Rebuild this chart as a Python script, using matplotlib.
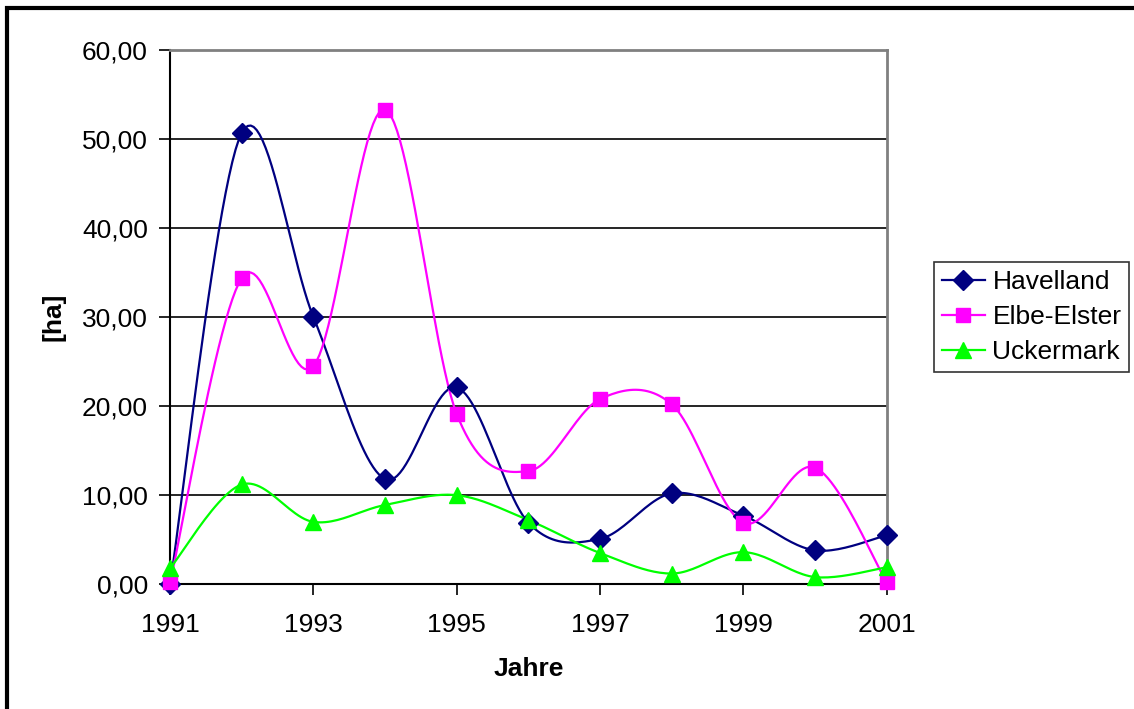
import numpy as np
import matplotlib
matplotlib.use("Agg")
import matplotlib.pyplot as plt
from matplotlib.patches import Rectangle

plt.rcParams['font.family'] = ['Liberation Sans', 'DejaVu Sans']

jahre = list(range(1991, 2002))
havelland = [0.0, 50.7, 30.0, 11.8, 22.1, 6.9, 5.1, 10.2, 7.7, 3.8, 5.5]
elbe_elster = [0.2, 34.4, 24.5, 53.3, 19.1, 12.7, 20.8, 20.2, 6.9, 13.1, 0.2]
uckermark = [1.8, 11.2, 7.0, 8.9, 10.0, 7.2, 3.5, 1.2, 3.6, 0.8, 1.9]

series = [
    ("Havelland", havelland, "#000080", "D", 10),
    ("Elbe-Elster", elbe_elster, "#FF00FF", "s", 10),
    ("Uckermark", uckermark, "#00FF00", "^", 11),
]


def smooth(x, y, n=24):
    # bezier smoothing through every point (catmull-rom style, like spreadsheet charts)
    x = np.asarray(x, float)
    y = np.asarray(y, float)
    px = np.concatenate([[x[0]], x, [x[-1]]])
    py = np.concatenate([[y[0]], y, [y[-1]]])
    xs, ys = [], []
    t = np.linspace(0, 1, n, endpoint=False)
    for i in range(1, len(px) - 2):
        p0 = np.array([px[i], py[i]])
        p3 = np.array([px[i + 1], py[i + 1]])
        c1 = p0 + (np.array([px[i + 1], py[i + 1]]) - np.array([px[i - 1], py[i - 1]])) / 6
        c2 = p3 - (np.array([px[i + 2], py[i + 2]]) - np.array([px[i], py[i]])) / 6
        b = ((1 - t) ** 3)[:, None] * p0 + (3 * (1 - t) ** 2 * t)[:, None] * c1 \
            + (3 * (1 - t) * t ** 2)[:, None] * c2 + (t ** 3)[:, None] * p3
        xs.extend(b[:, 0])
        ys.extend(b[:, 1])
    xs.append(x[-1])
    ys.append(y[-1])
    return np.array(xs), np.array(ys)


fig = plt.figure(figsize=(11.34, 7.09), dpi=100)
ax = fig.add_axes([0.150, 0.176, 0.632, 0.7535])

for name, vals, col, mk, ms in series:
    sx, sy = smooth(jahre, vals)
    ax.plot(sx, sy, color=col, lw=1.6, zorder=3)
    ax.plot(jahre, vals, linestyle='none', marker=mk, markersize=ms,
            color=col, markeredgecolor=col, zorder=4, clip_on=False)

ax.set_xlim(1991, 2001)
ax.set_ylim(0, 60)
ax.set_yticks(np.arange(0, 61, 10))
ax.set_yticklabels([f"{v:.2f}".replace('.', ',') for v in range(0, 61, 10)])
ax.set_xticks(range(1991, 2002, 2))
for v in range(10, 61, 10):
    ax.axhline(v, color='black', lw=1.2, zorder=1)

ax.tick_params(direction='out', length=8, width=1.2, labelsize=19, color='black')
ax.tick_params(axis='x', pad=13)
ax.tick_params(axis='y', pad=8)
for side in ['left', 'bottom']:
    ax.spines[side].set_color('black')
    ax.spines[side].set_linewidth(1.5)
for side in ['top', 'right']:
    ax.spines[side].set_color('#808080')
    ax.spines[side].set_linewidth(2)

ax.set_xlabel("Jahre", fontsize=19, fontweight='bold', labelpad=14)
ax.set_ylabel("[ha]", fontsize=19, fontweight='bold', labelpad=12)

handles = [plt.Line2D([], [], color=c, marker=m, markersize=ms, lw=1.6) for _, _, c, m, ms in series]
leg = fig.legend(handles, [s[0] for s in series], loc='upper left',
                 bbox_to_anchor=(0.824, 0.630), fontsize=19, frameon=True,
                 fancybox=False, edgecolor='black', handlelength=1.6,
                 handletextpad=0.3, borderpad=0.3, labelspacing=0.42, borderaxespad=0)
leg.get_frame().set_linewidth(1.2)

# outer chart border (top and left visible)
fig.add_artist(Rectangle((7 / 1134, -0.1), 1.2, 1 - 8 / 709 + 0.1, transform=fig.transFigure,
                         fill=False, edgecolor='black', lw=3))

fig.savefig("out.png", dpi=100)
